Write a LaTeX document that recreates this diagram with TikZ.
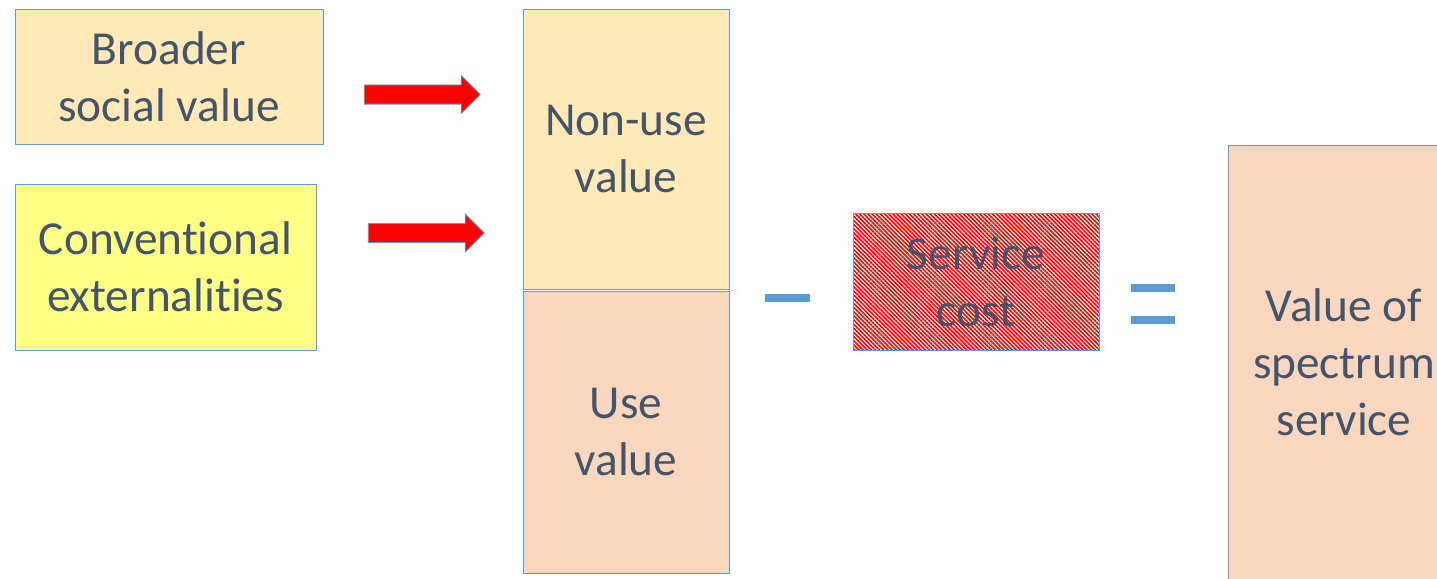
\documentclass[tikz,border=0pt]{standalone}
\usepackage{fontspec}
\setmainfont{Carlito}[Ligatures=NoCommon]
\usepackage{tikz}
\usetikzlibrary{shapes.arrows, patterns.meta}
\definecolor{valblue}{HTML}{5B9BD5}
\definecolor{valtext}{HTML}{44546A}
\definecolor{valgold}{HTML}{FFE9B6}
\definecolor{valyellow}{HTML}{FFFF85}
\definecolor{valpeach}{HTML}{F9D6BE}

\begin{document}
\begin{tikzpicture}[
    x=0.75pt, y=-0.75pt,
    box/.style={draw=valblue, line width=0.6pt, align=center, inner sep=0pt,
                text=valtext, font=\fontsize{35.5}{42.75}\selectfont},
    gold/.style={box, fill=valgold},
    peach/.style={box, fill=valpeach},
    hatched/.style={box, pattern={Lines[angle=-45, distance=2.2pt, line width=1.2pt]},
                    pattern color=red},
    blockarr/.style={single arrow, draw=valblue, line width=0.6pt, fill=red,
                     minimum height=87pt, inner xsep=0pt, inner ysep=6.9pt,
                     single arrow head extend=7.1pt, single arrow head indent=0pt},
    bar/.style={fill=valblue, inner sep=0pt, minimum width=33.5pt, minimum height=6.5pt}]
  \useasboundingbox (0,0) rectangle (1437,578);
  % left-hand inputs
  \node[gold, minimum width=231pt, minimum height=101.25pt] (broad) at (169,76.5)
    {Broader\\social value};
  \node[box, fill=valyellow, minimum width=225.75pt, minimum height=124.5pt] (ext) at (165.5,267)
    {Conventional\\externalities};
  \node[blockarr] (arrA) at (417.5,94.5) {};
  \node[blockarr] (arrB) at (421.5,233) {};
  % stacked value column
  \node[gold, minimum width=154.5pt, minimum height=210pt] (nonuse) at (626,149)
    {Non-use\\value};
  \node[peach, minimum width=154.5pt, minimum height=211.5pt] (use) at (626,432)
    {Use\\value};
  \node[bar] (minus) at (787.5,298) {};
  \node[hatched, minimum width=184.5pt, minimum height=102.75pt] (cost) at (976,281.5)
    {Service\\cost};
  \node[bar] (eqA) at (1153,288) {};
  \node[bar] (eqB) at (1153,320) {};
  \node[peach, minimum width=174pt, minimum height=325.5pt] (spec) at (1344,362)
    {Value of\\spectrum\\service};
\end{tikzpicture}
\end{document}
